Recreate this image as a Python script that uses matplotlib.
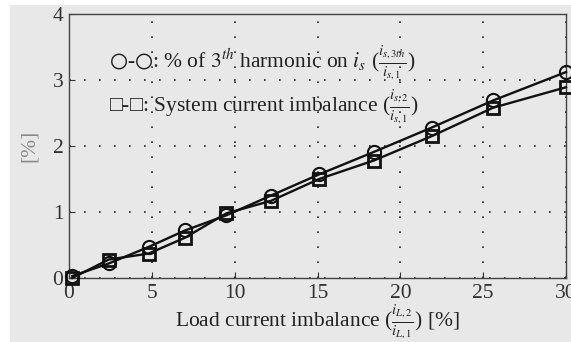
import numpy as np
import matplotlib.pyplot as plt
from matplotlib.patches import Rectangle

x_last = [0.2, 2.4, 4.8, 7.0, 9.5, 12.2, 15.1, 18.4, 21.9, 25.6, 30.0]
harm_3 = [0.03, 0.22, 0.47, 0.72, 0.95, 1.25, 1.57, 1.91, 2.28, 2.69, 3.12]
unsym_sys = [0.0, 0.28, 0.37, 0.61, 0.98, 1.17, 1.50, 1.78, 2.15, 2.58, 2.89]
x_ticks = [0, 5, 10, 15, 20, 25, 30]
y_ticks = [0, 1, 2, 3, 4]

plt.rcParams['font.family'] = ['Liberation Serif', 'DejaVu Serif']
plt.rcParams['mathtext.fontset'] = 'stix'

grau = '#e8e8e8'
fig = plt.figure(figsize=(5.71, 3.42), dpi=100)
fig.patch.set_facecolor('white')
# grauer Hintergrund wie im Original (weisser Rand oben/links)
fig.patches.append(Rectangle((10 / 571, 0), 1, 1 - 5 / 342, transform=fig.transFigure,
                             facecolor=grau, edgecolor='none', zorder=-10))

ax = fig.add_axes([69 / 571, 1 - 278 / 342, (566 - 69) / 571, (278 - 14) / 342])
ax.set_facecolor(grau)

ax.plot(x_last, harm_3, color='#111111', linewidth=1.7, marker='o', markersize=9.5,
        markerfacecolor='none', markeredgewidth=1.5, zorder=3, clip_on=False)
ax.plot(x_last, unsym_sys, color='#111111', linewidth=1.7, marker='s', markersize=8,
        markerfacecolor='none', markeredgewidth=2.0, zorder=3, clip_on=False)

ax.set_xlim(0, 30)
ax.set_ylim(0, 4)
ax.set_xticks(x_ticks)
ax.set_yticks(y_ticks)
ax.grid(True, color='#222222', linestyle=(0, (1, 8)), linewidth=1.2)
ax.tick_params(direction='in', length=4, labelsize=15.5, colors='#333333', pad=4)
for s in ax.spines.values():
    s.set_color('#444444')
    s.set_linewidth(1.0)

ax.set_xlabel(r'Load current imbalance ($\frac{i_{L,2}}{i_{L,1}}$) [%]', fontsize=15.5,
              color='#222222', labelpad=0)
ax.set_ylabel('[%]', fontsize=15.5, color='#888888', labelpad=10)

ax.text(2.4, 3.27, r'$\bigcirc$-$\bigcirc$: % of $3^{th}$ harmonic on $i_s$ ($\frac{i_{s,3th}}{i_{s,1}}$)',
        fontsize=15.5, color='#222222', va='center')
ax.text(2.4, 2.59, u'\u25a1-\u25a1: System current imbalance ($\\frac{i_{s,2}}{i_{s,1}}$)',
        fontsize=15.5, color='#222222', va='center')

fig.savefig('out.png', dpi=100, facecolor=fig.get_facecolor())
